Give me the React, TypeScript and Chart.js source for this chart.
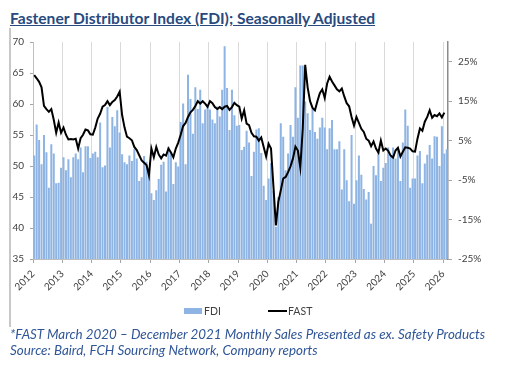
import React, { useEffect, useRef } from 'react';
import { Chart, registerables } from 'chart.js';

Chart.register(...registerables);

// Year tick labels (one every 12 months)
const YEAR_LABELS = ['2012', '2013', '2014', '2015', '2016', '2017', '2018', '2019', '2020', '2021', '2022', '2023', '2024', '2025', '2026'];

// Monthly categories Jan 2012 .. Feb 2026
const MONTHS: string[] = [];
YEAR_LABELS.forEach((y, k) => {
  const n = k === YEAR_LABELS.length - 1 ? 2 : 12;
  for (let m = 1; m <= n; m++) MONTHS.push(`${y}-${String(m).padStart(2, '0')}`);
});

// FDI index (left axis), monthly
const FDI: number[] = [
  51.7, 56.7, 54.2, 50.3, 55.0, 52.2, 46.5, 53.5, 52.0, 47.2, 47.3, 49.7, // 2012
  51.4, 49.3, 51.1, 48.2, 51.4, 52.0, 51.1, 53.0, 49.0, 53.2, 53.2, 51.3, // 2013
  52.0, 52.3, 51.4, 57.0, 49.8, 50.1, 59.5, 53.0, 57.9, 56.4, 59.0, 55.4, // 2014
  51.9, 50.6, 50.3, 51.7, 50.8, 52.7, 51.2, 47.6, 48.2, 51.6, 50.7, 48.5, // 2015
  45.6, 44.5, 46.1, 47.9, 50.2, 50.7, 45.9, 53.1, 52.0, 47.1, 50.6, 49.9, // 2016
  57.1, 60.1, 50.3, 64.7, 60.8, 55.2, 62.7, 59.2, 62.3, 56.9, 59.1, 59.7, // 2017
  59.1, 57.5, 56.9, 59.6, 58.0, 62.3, 69.3, 62.6, 55.8, 62.3, 58.2, 56.5, // 2018
  56.6, 52.6, 53.1, 55.7, 53.8, 48.4, 52.3, 55.9, 56.1, 52.1, 46.8, 44.5, // 2019
  48.0, 50.5, 46.0, 40.2, 45.0, 56.9, 54.7, 49.3, 52.0, 56.6, 54.7, 62.7, // 2020
  57.8, 66.2, 66.2, 60.4, 58.5, 55.8, 59.2, 55.5, 54.4, 56.2, 57.8, 56.2, // 2021
  52.7, 56.1, 57.4, 52.7, 52.7, 54.0, 46.2, 52.7, 47.7, 44.3, 55.0, 43.9, // 2022
  47.7, 51.7, 48.6, 46.3, 44.6, 45.8, 40.7, 50.0, 48.5, 52.3, 47.6, 49.7, // 2023
  50.5, 53.0, 51.5, 53.0, 51.2, 53.0, 47.6, 53.8, 59.1, 56.5, 46.5, 48.0, // 2024
  48.0, 51.7, 52.4, 47.2, 50.4, 51.8, 53.4, 51.2, 54.8, 54.7, 50.0, 56.4, // 2025
  52.0, 52.7, // 2026
];

// FAST monthly sales growth, % (right axis)
const FAST: (number | null)[] = [
  21.6, 20.8, 19.9, 18.5, 13.8, 13.0, 12.3, 13.0, 10.3, 7.0, 9.6, 7.0, // 2012
  8.3, 6.5, 5.3, 5.4, 5.3, 5.5, 3.0, 5.6, 6.5, 7.8, 7.6, 6.6, // 2013
  6.5, 8.3, 10.6, 11.8, 13.6, 14.0, 15.0, 14.0, 14.8, 15.3, 16.2, 17.4, // 2014
  11.5, 8.3, 6.0, 5.6, 5.1, 3.4, 2.6, 1.3, 0.0, -0.6, -1.2, -3.8, // 2015
  3.0, 0.8, 3.4, 1.5, 0.5, 1.5, 1.2, 3.0, 2.0, 0.8, 3.0, 4.5, // 2016
  6.5, 8.7, 9.5, 11.0, 12.2, 12.8, 13.8, 15.0, 14.4, 15.0, 14.4, 13.6, // 2017
  15.0, 14.5, 13.5, 13.0, 13.5, 13.0, 13.6, 13.8, 12.8, 13.5, 14.6, 14.0, // 2018
  13.6, 10.6, 12.7, 9.3, 8.9, 7.0, 6.1, 6.0, 5.0, 5.8, 3.4, 1.0, // 2019
  4.2, 3.0, -6.7, -16.5, -10.5, -7.6, -4.6, -4.2, -3.0, -1.5, 0.5, 3.5, // 2020
  2.5, -1.8, 8.0, 24.2, 18.5, 15.0, 13.3, 12.7, 15.0, 17.0, 18.0, 15.8, // 2021
  19.5, 21.2, 20.0, 19.0, 18.0, 17.5, 18.2, 16.2, 14.5, 13.7, 11.0, 8.8, // 2022
  11.0, 9.5, 8.0, 7.2, 5.5, 5.0, 3.6, 4.8, 3.0, 2.0, 5.0, 2.5, // 2023
  3.0, 2.4, 1.2, 0.7, 2.5, 3.2, 1.0, 2.2, 3.3, 3.2, 3.0, 2.3, // 2024
  2.2, 5.5, 8.1, 7.5, 9.8, 11.0, 12.7, 10.8, 11.5, 11.2, 11.9, 10.9, // 2025
  12.1, null, // 2026
];

const RIGHT_TICKS = [-25, -15, -5, 5, 15, 25];
const LEFT_MIN = 35;
const LEFT_MAX = 70;
const RIGHT_MIN = -25;
const RIGHT_MAX = 30;

const SERIES_NAMES = ['FDI', 'FAST'];
const BAR_COLOR = '#8EB4E3';
const LINE_COLOR = '#000000';

const TITLE = 'Fastener Distributor Index (FDI); Seasonally Adjusted';
const NOTE_1 = '*FAST March 2020 \u2013 December 2021 Monthly Sales Presented as ex. Safety Products';
const NOTE_2 = 'Source: Baird, FCH Sourcing Network, Company reports';

const FONT_FAMILY = 'Lato, "Liberation Sans", sans-serif';
const TICK_FONT = { family: FONT_FAMILY, size: 10 };
const TICK_COLOR = '#404040';

export default function App() {
  const ref = useRef<HTMLCanvasElement>(null);

  useEffect(() => {
    if (!ref.current) return;
    const barData = FDI.map((v, i) => ({ x: i + 0.5, y: v }));
    const lineData = FAST.map((v, i) => ({ x: i + 0.5, y: v }));

    const chart = new Chart(ref.current, {
      type: 'bar',
      data: {
        datasets: [
          {
            type: 'bar',
            label: SERIES_NAMES[0],
            data: barData as any,
            backgroundColor: BAR_COLOR,
            borderWidth: 0,
            categoryPercentage: 0.9,
            barPercentage: 0.92,
            yAxisID: 'y',
            order: 2,
          } as any,
          {
            type: 'line',
            label: SERIES_NAMES[1],
            data: lineData as any,
            borderColor: LINE_COLOR,
            backgroundColor: LINE_COLOR,
            borderWidth: 2,
            pointRadius: 0,
            tension: 0,
            fill: false,
            yAxisID: 'y1',
            order: 1,
          } as any,
        ],
      },
      options: {
        animation: false,
        responsive: false,
        maintainAspectRatio: false,
        layout: { padding: { left: 10, right: 5, top: 42, bottom: 75 } },
        plugins: {
          tooltip: { enabled: false },
          legend: { display: false },
        },
        scales: {
          x: {
            type: 'linear',
            min: 0,
            max: MONTHS.length,
            offset: false,
            grid: {
              offset: false,
              color: '#d9d9d9',
              tickColor: '#a6a6a6',
              tickLength: 4,
              lineWidth: 1,
            },
            border: { color: '#bfbfbf' },
            ticks: {
              autoSkip: false,
              maxRotation: 45,
              minRotation: 45,
              padding: 5,
              font: TICK_FONT,
              color: TICK_COLOR,
              callback: (v: any) => YEAR_LABELS[Math.round(Number(v) / 12)] ?? '',
            },
            afterBuildTicks: (s: any) => {
              s.ticks = YEAR_LABELS.map((_, k) => ({ value: k * 12 }));
            },
            afterFit: (s: any) => {
              s.height = 40;
            },
          } as any,
          y: {
            position: 'left',
            min: LEFT_MIN,
            max: LEFT_MAX,
            ticks: { stepSize: 5, font: TICK_FONT, color: TICK_COLOR, padding: 6 },
            grid: { drawOnChartArea: false, tickLength: 3, color: '#a6a6a6' },
            border: { color: '#bfbfbf' },
            afterFit: (s: any) => {
              s.width = 23;
            },
          },
          y1: {
            position: 'right',
            min: RIGHT_MIN,
            max: RIGHT_MAX,
            ticks: {
              font: TICK_FONT,
              color: TICK_COLOR,
              padding: 6,
              callback: (v: any) => `${v}%`,
            },
            afterBuildTicks: (s: any) => {
              s.ticks = RIGHT_TICKS.map((v) => ({ value: v }));
            },
            grid: { drawOnChartArea: false, tickLength: 4, color: '#a6a6a6' },
            border: { color: '#8c8c8c', width: 1.5 },
            afterFit: (s: any) => {
              s.width = 58;
            },
          } as any,
        },
      },
    });
    return () => chart.destroy();
  }, []);

  const legendText: React.CSSProperties = {
    position: 'absolute',
    top: 304,
    font: `10.5px ${FONT_FAMILY}`,
    lineHeight: '14px',
    color: TICK_COLOR,
    whiteSpace: 'nowrap',
  };

  return (
    <div style={{ position: 'absolute', left: 0, top: 0, width: 511, height: 374, background: '#ffffff', overflow: 'hidden' }}>
      <div
        style={{
          position: 'absolute',
          left: 10,
          top: 9,
          font: `bold 15.6px ${FONT_FAMILY}`,
          lineHeight: '18px',
          color: '#284A7E',
          textDecoration: 'underline',
          whiteSpace: 'nowrap',
        }}
      >
        {TITLE}
      </div>
      <div style={{ position: 'absolute', left: 9, top: 28, width: 2, height: 299, background: '#c8c8c8' }} />
      <canvas ref={ref} width={511} height={374} style={{ position: 'absolute', left: 0, top: 0 }} />
      {/* legend */}
      <div style={{ position: 'absolute', left: 184, top: 308, width: 18, height: 6, background: BAR_COLOR }} />
      <div style={{ ...legendText, left: 204 }}>{SERIES_NAMES[0]}</div>
      <div style={{ position: 'absolute', left: 268, top: 310, width: 19, height: 2, background: LINE_COLOR }} />
      <div style={{ ...legendText, left: 288 }}>{SERIES_NAMES[1]}</div>
      <div
        style={{
          position: 'absolute',
          left: 10,
          top: 327,
          font: `italic 13.4px ${FONT_FAMILY}`,
          lineHeight: '15.5px',
          color: '#2F5597',
          whiteSpace: 'nowrap',
        }}
      >
        <div>{NOTE_1}</div>
        <div>{NOTE_2}</div>
      </div>
    </div>
  );
}
